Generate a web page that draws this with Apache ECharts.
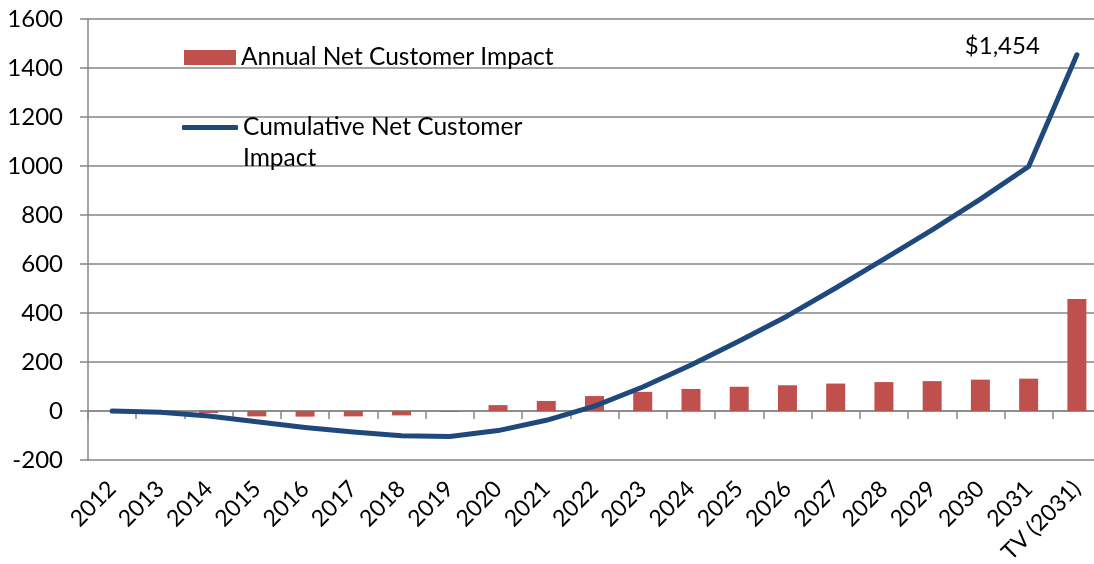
<!DOCTYPE html>
<html>
<head>
<meta charset="utf-8">
<script src="https://cdn.jsdelivr.net/npm/echarts@6/dist/echarts.min.js"></script>
<style>
html,body{margin:0;padding:0;background:#fff;}
#chart{width:1094px;height:564px;}
</style>
</head>
<body>
<div id="chart"></div>
<script>
const categories = ['2012','2013','2014','2015','2016','2017','2018','2019','2020','2021','2022','2023','2024','2025','2026','2027','2028','2029','2030','2031','TV (2031)'];
const annualImpact = [0, -2, -8, -22, -23, -22, -18, -3, 24, 41, 61, 78, 90, 99, 105, 112, 118, 122, 128, 132, 457];
const cumulativeImpact = [0, -5, -20, -44, -67, -86, -101, -104, -80, -38, 20, 98, 188, 286, 388, 502, 620, 739, 865, 998, 1454];
const yTicks = { min: -200, max: 1600, interval: 200 };
const seriesNames = ['Annual Net Customer Impact', 'Cumulative Net Customer Impact'];

const FONT = 'Lato';
const lastIdx = cumulativeImpact.length - 1;
const lineData = cumulativeImpact.map((v, i) => i === lastIdx ? {
  value: v,
  label: {
    show: true, position: 'left', distance: 37, offset: [0, -9],
    formatter: p => '$' + Number(p.value).toLocaleString('en-US'),
    color: '#000', fontFamily: FONT, fontSize: 24
  }
} : v);

const chart = echarts.init(document.getElementById('chart'), null, { renderer: 'canvas' });
chart.setOption({
  animation: false,
  backgroundColor: '#fff',
  grid: { left: 88, right: -7, top: 19, bottom: 104, containLabel: false, outerBoundsMode: 'none' },
  legend: [
    {
      data: [{ name: seriesNames[0], icon: 'rect' }],
      left: 184, top: 45, padding: 0,
      itemWidth: 52, itemHeight: 15,
      textStyle: { fontFamily: FONT, fontSize: 24.5, color: '#000' }
    },
    {
      data: [{ name: seriesNames[1], icon: 'roundRect' }],
      left: 182, top: 81, padding: 0,
      itemWidth: 56, itemHeight: 5,
      formatter: () => '\nCumulative Net Customer\nImpact',
      textStyle: { fontFamily: FONT, fontSize: 24.5, color: '#000', lineHeight: 31 }
    }
  ],
  xAxis: {
    type: 'category',
    data: categories,
    boundaryGap: true,
    axisLine: { onZero: true, lineStyle: { color: '#868686', width: 1.5 } },
    axisTick: { show: true, interval: 0, length: 8, lineStyle: { color: '#868686', width: 1.5 } },
    axisLabel: { interval: 0, rotate: 45, margin: 25, fontFamily: FONT, fontSize: 23, color: '#000', hideOverlap: false },
    splitLine: { show: false }
  },
  yAxis: {
    type: 'value',
    min: yTicks.min, max: yTicks.max, interval: yTicks.interval,
    axisLine: { show: true, onZero: false, lineStyle: { color: '#868686', width: 1.5 } },
    axisTick: { show: true, length: 8, lineStyle: { color: '#868686', width: 1.5 } },
    axisLabel: { margin: 25, fontFamily: FONT, fontSize: 24, color: '#000', formatter: v => String(v) },
    splitLine: { show: true, lineStyle: { color: '#868686', width: 1.5 } }
  },
  series: [
    {
      name: seriesNames[0],
      type: 'bar',
      data: annualImpact,
      barWidth: 19,
      itemStyle: { color: '#C0504D' }
    },
    {
      name: seriesNames[1],
      type: 'line',
      data: lineData,
      showSymbol: true,
      symbol: 'circle',
      symbolSize: 0,
      smooth: false,
      lineStyle: { color: '#1F497D', width: 5, cap: 'round', join: 'round' },
      itemStyle: { color: '#1F497D' },
      z: 3
    }
  ]
});
</script>
</body>
</html>
